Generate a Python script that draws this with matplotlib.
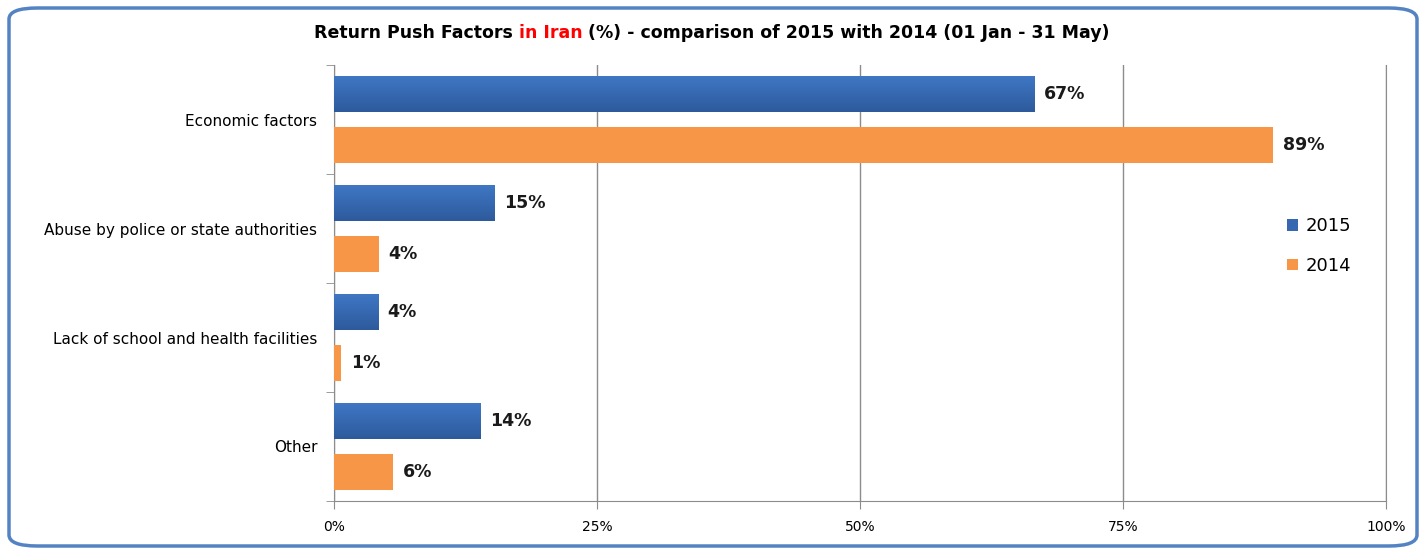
import matplotlib
matplotlib.use("Agg")
import matplotlib.pyplot as plt
import numpy as np
from matplotlib.patches import FancyBboxPatch

# data
categories = ["Economic factors", "Abuse by police or state authorities",
              "Lack of school and health facilities", "Other"]
values_2015 = [66.6, 15.3, 4.2, 13.9]
values_2014 = [89.3, 4.3, 0.7, 5.6]
labels_2015 = ["67%", "15%", "4%", "14%"]
labels_2014 = ["89%", "4%", "1%", "6%"]
xticks = [0, 25, 50, 75, 100]
xtick_labels = ["0%", "25%", "50%", "75%", "100%"]

blue = "#3667B1"
orange = "#F79646"
grid_col = "#8C8C8C"

W, H = 1426, 555
fig = plt.figure(figsize=(W / 100, H / 100), dpi=100)

# rounded border around the whole chart
border = FancyBboxPatch((9 / W, 9 / H), 1408 / W, 538 / H,
                        boxstyle="round,pad=0,rounding_size=0.02",
                        transform=fig.transFigure, fill=False,
                        edgecolor="#5383C3", linewidth=2.5)
fig.patches.append(border)

ax = fig.add_axes([334 / W, 1 - 501 / H, (1386 - 334) / W, (501 - 65) / H])

y = np.arange(len(categories))
h = 0.33
off = 0.23
bars15 = ax.barh(y - off, values_2015, height=h, color=blue, label="2015", zorder=3)
bars14 = ax.barh(y + off, values_2014, height=h, color=orange, label="2014", zorder=3)

# light-to-dark vertical gradient on the 2015 bars
grad = np.linspace(0, 1, 64).reshape(-1, 1)
cmap = matplotlib.colors.LinearSegmentedColormap.from_list("b", ["#3F77C4", "#2D5A9C"])
for b in bars15:
    x0, y0 = b.get_x(), b.get_y()
    im = ax.imshow(grad, cmap=cmap, aspect="auto", zorder=3.5,
                   extent=(x0, x0 + b.get_width(), y0 + b.get_height(), y0))
    im.set_clip_path(b)

for yi, v, t in zip(y - off, values_2015, labels_2015):
    ax.text(v + 0.9, yi, t, va="center", ha="left", fontsize=12.5,
            fontweight="bold", color="#1a1a1a")
for yi, v, t in zip(y + off, values_2014, labels_2014):
    ax.text(v + 0.9, yi, t, va="center", ha="left", fontsize=12.5,
            fontweight="bold", color="#1a1a1a")

ax.set_xlim(0, 100)
ax.set_ylim(len(categories) - 0.5, -0.5)
ax.set_xticks(xticks)
ax.set_xticklabels(xtick_labels, fontsize=10)
ax.set_yticks(y)
ax.set_yticklabels(categories, fontsize=11)
ax.set_yticks(np.arange(len(categories) + 1) - 0.5, minor=True)
ax.tick_params(axis="y", which="major", length=0, pad=12)
ax.tick_params(axis="y", which="minor", length=6, color=grid_col, direction="out")
ax.tick_params(axis="x", length=6, color=grid_col, direction="out", pad=8)

ax.grid(axis="x", color=grid_col, linewidth=1, zorder=0)
ax.spines["top"].set_visible(False)
for s in ["left", "bottom", "right"]:
    ax.spines[s].set_color(grid_col)

ax.legend(loc="center left", bbox_to_anchor=(1271 / W, 1 - 246 / H),
          bbox_transform=fig.transFigure, frameon=False, fontsize=13,
          handlelength=0.6, handleheight=0.6, handletextpad=0.4,
          labelspacing=1.2)

# title with a red part
renderer = fig.canvas.get_renderer()
parts = [("Return Push Factors ", "black"), ("in Iran", "red"),
         (" (%) - comparison of 2015 with 2014 (01 Jan - 31 May)", "black")]
texts = []
for s, c in parts:
    t = fig.text(0, 1 - 33 / H, s, color=c, fontsize=12.5, fontweight="bold",
                 va="center", ha="left")
    texts.append(t)
widths = [t.get_window_extent(renderer).width for t in texts]
x0 = 712 - sum(widths) / 2
for t, w in zip(texts, widths):
    t.set_x(x0 / W)
    x0 += w

fig.savefig("out.png", dpi=100)
